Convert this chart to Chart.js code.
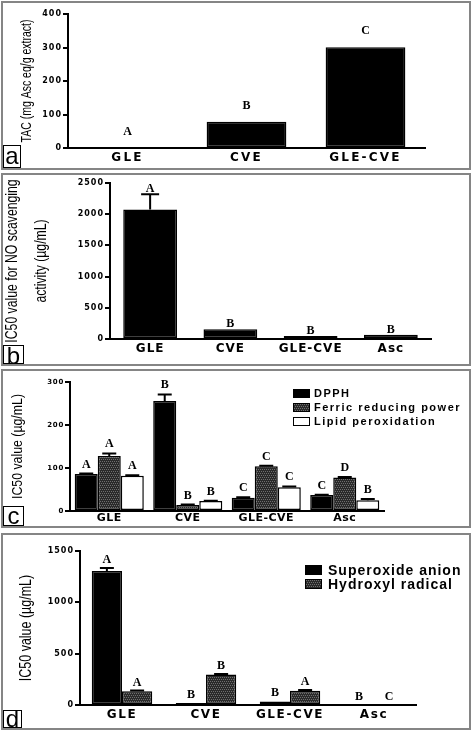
<!DOCTYPE html>
<html>
<head>
<meta charset="utf-8">
<script src="https://cdn.jsdelivr.net/npm/chart.js@4.4.1/dist/chart.umd.min.js"></script>
<style>
body { margin:0; width:472px; height:732px; background:#fff; position:relative; overflow:hidden; }
.panel { position:absolute; left:1px; width:466px; border:2px solid #858585; background:#fff; }
.panel canvas { position:absolute; left:0; top:0; }
.tag { position:absolute; left:0; bottom:0; border:1.5px solid #000; box-sizing:border-box; background:#fff;
       font:24px 'Liberation Sans', Arial, sans-serif; text-align:center; color:#000; }
.legend { position:absolute; font-family:'Liberation Sans', Arial, sans-serif; font-weight:bold; color:#000; }
.legend div { display:flex; align-items:center; white-space:nowrap; }
.legend .sw { display:inline-block; border:1.5px solid #000; box-sizing:border-box; }
</style>
</head>
<body>
<div class="panel" style="top:1px;height:165px"><canvas id="chartA" width="466" height="165"></canvas><div class="tag" style="width:18px;height:23px;line-height:20px">a</div></div>
<div class="panel" style="top:173px;height:189px"><canvas id="chartB" width="466" height="189"></canvas><div class="tag" style="width:21px;height:19px;line-height:19px">b</div></div>
<div class="panel" style="top:369px;height:155px"><canvas id="chartC" width="466" height="155"></canvas><div class="legend" id="legendC" style="left:290px;top:15px;font-size:11px;letter-spacing:1.5px;line-height:14px"></div><div class="tag" style="width:21px;height:20px;line-height:18px">c</div></div>
<div class="panel" style="top:533px;height:193px"><canvas id="chartD" width="466" height="193"></canvas><div class="legend" id="legendD" style="left:302px;top:28px;font-size:14px;letter-spacing:1px;line-height:14px"></div><div class="tag" style="width:19px;height:18px;line-height:16px">d</div></div>
<script>
// panel a
const tacLabels = ['GLE', 'CVE', 'GLE-CVE'];
const tacValues = [0.5, 78, 301];
const tacErrors = [0, 0, 0];
const tacLetters = ['A', 'B', 'C'];

// panel b
const extractLabels = ['GLE', 'CVE', 'GLE-CVE', 'Asc'];
const noValues = [2075, 155, 50, 70];
const noErrors = [245, 0, 0, 0];
const noLetters = ['A', 'B', 'B', 'B'];

// panel c
const dpphValues = [86, 256, 31, 37];
const dpphErrors = [1, 15, 1, 1];
const dpphLetters = ['A', 'B', 'C', 'C'];
const ferricValues = [128, 14, 104, 78];
const ferricErrors = [6, 1, 1, 1];
const ferricLetters = ['A', 'B', 'C', 'D'];
const lipidValues = [82, 23, 55, 25];
const lipidErrors = [1, 1, 2, 3];
const lipidLetters = ['A', 'B', 'C', 'B'];

// panel d
const superoxideValues = [1305, 20, 35, 4];
const superoxideErrors = [30, 0, 0, 0];
const superoxideLetters = ['A', 'B', 'B', 'B'];
const hydroxylValues = [135, 298, 140, 3];
const hydroxylErrors = [6, 5, 6, 0];
const hydroxylLetters = ['A', 'B', 'A', 'C'];

// scales that space out tick text and squeeze the axis title (Prism look)
function spaced(Base, id) {
    class Spaced extends Base {
        drawLabels(area) {
            this.ctx.save();
            this.ctx.letterSpacing = (this.options.ticks.spacing || 0) + 'px';
            super.drawLabels(area);
            this.ctx.restore();
        }
        drawTitle() {
            const f = this.options.title.squeeze || 1;
            const cy = (this.top + this.bottom) / 2;
            this.ctx.save();
            this.ctx.translate(0, cy);
            this.ctx.scale(1, f);
            this.ctx.translate(0, -cy);
            super.drawTitle();
            this.ctx.restore();
        }
    }
    Spaced.id = id;
    return Spaced;
}
Chart.register(spaced(Chart.CategoryScale, 'wideCategory'), spaced(Chart.LinearScale, 'wideLinear'));

// dark textured fill for the second series
const tile = document.createElement('canvas');
tile.width = 4; tile.height = 4;
const tg = tile.getContext('2d');
tg.fillStyle = '#2a2a2a'; tg.fillRect(0, 0, 4, 4);
tg.fillStyle = '#6e6e6e';
[[0, 0], [2, 0], [1, 2], [3, 2]].forEach(p => tg.fillRect(p[0], p[1], 1, 1));
const hatch = tg.createPattern(tile, 'repeat');
const hatchCss = `url(${tile.toDataURL()})`;

const marks = {
    id: 'marks',
    afterDatasetsDraw(chart, args, opts) {
        const ctx = chart.ctx;
        const y = chart.scales.y;
        ctx.save();
        chart.data.datasets.forEach((ds, i) => {
            chart.getDatasetMeta(i).data.forEach((bar, j) => {
                const err = ds.errors[j];
                const top = y.getPixelForValue(ds.data[j] + err);
                if (err > 0) {
                    ctx.strokeStyle = '#000';
                    ctx.lineWidth = 2;
                    ctx.beginPath();
                    ctx.moveTo(bar.x, bar.y);
                    ctx.lineTo(bar.x, top);
                    ctx.moveTo(bar.x - opts.cap / 2, top);
                    ctx.lineTo(bar.x + opts.cap / 2, top);
                    ctx.stroke();
                }
                ctx.fillStyle = '#000';
                ctx.font = 'bold 12px "Liberation Serif", "Times New Roman", serif';
                ctx.textAlign = 'center';
                ctx.fillText(ds.letters[j], bar.x, Math.min(top, bar.y) - opts.gap);
            });
        });
        ctx.restore();
    }
};

const htmlLegend = {
    id: 'htmlLegend',
    afterUpdate(chart, args, opts) {
        const box = document.getElementById(opts.containerID);
        box.innerHTML = '';
        chart.data.datasets.forEach(ds => {
            const row = document.createElement('div');
            const sw = document.createElement('span');
            sw.className = 'sw';
            sw.style.width = opts.w + 'px';
            sw.style.height = opts.h + 'px';
            sw.style.marginRight = opts.gap + 'px';
            sw.style.background = ds.swatch;
            row.appendChild(sw);
            row.appendChild(document.createTextNode(ds.label));
            box.appendChild(row);
        });
    }
};

function barChart(id, labels, sets, look) {
    const plugins = [marks];
    if (look.legend) plugins.push(htmlLegend);
    return new Chart(document.getElementById(id), {
        type: 'bar',
        data: { labels: labels, datasets: sets },
        plugins: plugins,
        options: {
            responsive: false,
            animation: false,
            devicePixelRatio: 1,
            layout: { padding: { left: 0, top: look.top, right: look.right, bottom: 0 } },
            datasets: { bar: { categoryPercentage: look.cat, barPercentage: look.bar, borderColor: '#000', borderWidth: 1.5, borderSkipped: false } },
            plugins: {
                legend: { display: false },
                tooltip: { enabled: false },
                marks: { cap: look.cap, gap: look.gap },
                htmlLegend: look.legend || {}
            },
            scales: {
                x: {
                    type: 'wideCategory',
                    afterFit: s => { s.height = look.xh; },
                    grid: { display: false, drawTicks: false },
                    border: { display: true, color: '#000', width: 2 },
                    ticks: {
                        color: '#000', autoSkip: false, maxRotation: 0, padding: look.xpad, spacing: look.xsp,
                        font: { family: 'DejaVu Sans', weight: 'bold', size: look.xfs }
                    }
                },
                y: {
                    type: 'wideLinear',
                    min: 0, max: look.max,
                    afterFit: s => { s.width = look.left; },
                    grid: { display: true, drawOnChartArea: false, drawTicks: true, tickLength: 5, color: '#000', lineWidth: 2 },
                    border: { display: true, color: '#000', width: 2 },
                    ticks: {
                        stepSize: look.step, color: '#000', padding: 1, spacing: look.ysp,
                        callback: v => String(v),
                        font: { family: 'DejaVu Sans', weight: 'bold', size: look.yfs }
                    },
                    title: {
                        display: true, text: look.title, color: '#000', squeeze: look.sq,
                        font: { family: "'Liberation Sans', Arial, sans-serif", size: look.tfs, lineHeight: look.tlh || 1.2 },
                        padding: { top: look.tpad, bottom: 0 }
                    }
                }
            }
        }
    });
}

barChart('chartA', tacLabels, [
    { label: 'TAC', data: tacValues, errors: tacErrors, letters: tacLetters, backgroundColor: '#000' }
], { top: 11, right: 44, left: 65, xh: 20, cat: 1, bar: 0.67, max: 400, step: 100,
     xfs: 12, xsp: 2.2, xpad: 3, yfs: 8, ysp: 1, cap: 12, gap: 13,
     title: 'TAC (mg Asc eq/g extract)', tfs: 15, sq: 0.7, tpad: 15 });

barChart('chartB', extractLabels, [
    { label: 'NO scavenging', data: noValues, errors: noErrors, letters: noLetters, backgroundColor: '#000' }
], { top: 8, right: 38, left: 107, xh: 25, cat: 1, bar: 0.67, max: 2500, step: 500,
     xfs: 12, xsp: 1, xpad: 3, yfs: 8, ysp: 1, cap: 18, gap: 2,
     title: ['IC50 value for NO scavenging', 'activity (µg/mL)'], tfs: 17, sq: 0.72, tlh: 1.7, tpad: -5 });

barChart('chartC', extractLabels, [
    { label: 'DPPH', data: dpphValues, errors: dpphErrors, letters: dpphLetters, backgroundColor: '#000', swatch: '#000' },
    { label: 'Ferric reducing power', data: ferricValues, errors: ferricErrors, letters: ferricLetters, backgroundColor: hatch, swatch: hatchCss },
    { label: 'Lipid peroxidation', data: lipidValues, errors: lipidErrors, letters: lipidLetters, backgroundColor: '#fff', swatch: '#fff' }
], { top: 11, right: 85, left: 67, xh: 15, cat: 0.88, bar: 1, max: 300, step: 100,
     xfs: 11, xsp: 0.5, xpad: 1, yfs: 7, ysp: 0.7, cap: 14, gap: 6,
     title: 'IC50 value (µg/mL)', tfs: 14, sq: 0.88, tpad: 7,
     legend: { containerID: 'legendC', w: 17, h: 9, gap: 4 } });

barChart('chartD', extractLabels, [
    { label: 'Superoxide anion', data: superoxideValues, errors: superoxideErrors, letters: superoxideLetters, backgroundColor: '#000', swatch: '#000' },
    { label: 'Hydroxyl radical', data: hydroxylValues, errors: hydroxylErrors, letters: hydroxylLetters, backgroundColor: hatch, swatch: hatchCss }
], { top: 16, right: 53, left: 77, xh: 23, cat: 0.72, bar: 1, max: 1500, step: 500,
     xfs: 12, xsp: 1.6, xpad: 3, yfs: 8, ysp: 1, cap: 14, gap: 5,
     title: 'IC50 value (µg/mL)', tfs: 16, sq: 0.78, tpad: 14,
     legend: { containerID: 'legendD', w: 17, h: 10, gap: 6 } });
</script>
</body>
</html>
